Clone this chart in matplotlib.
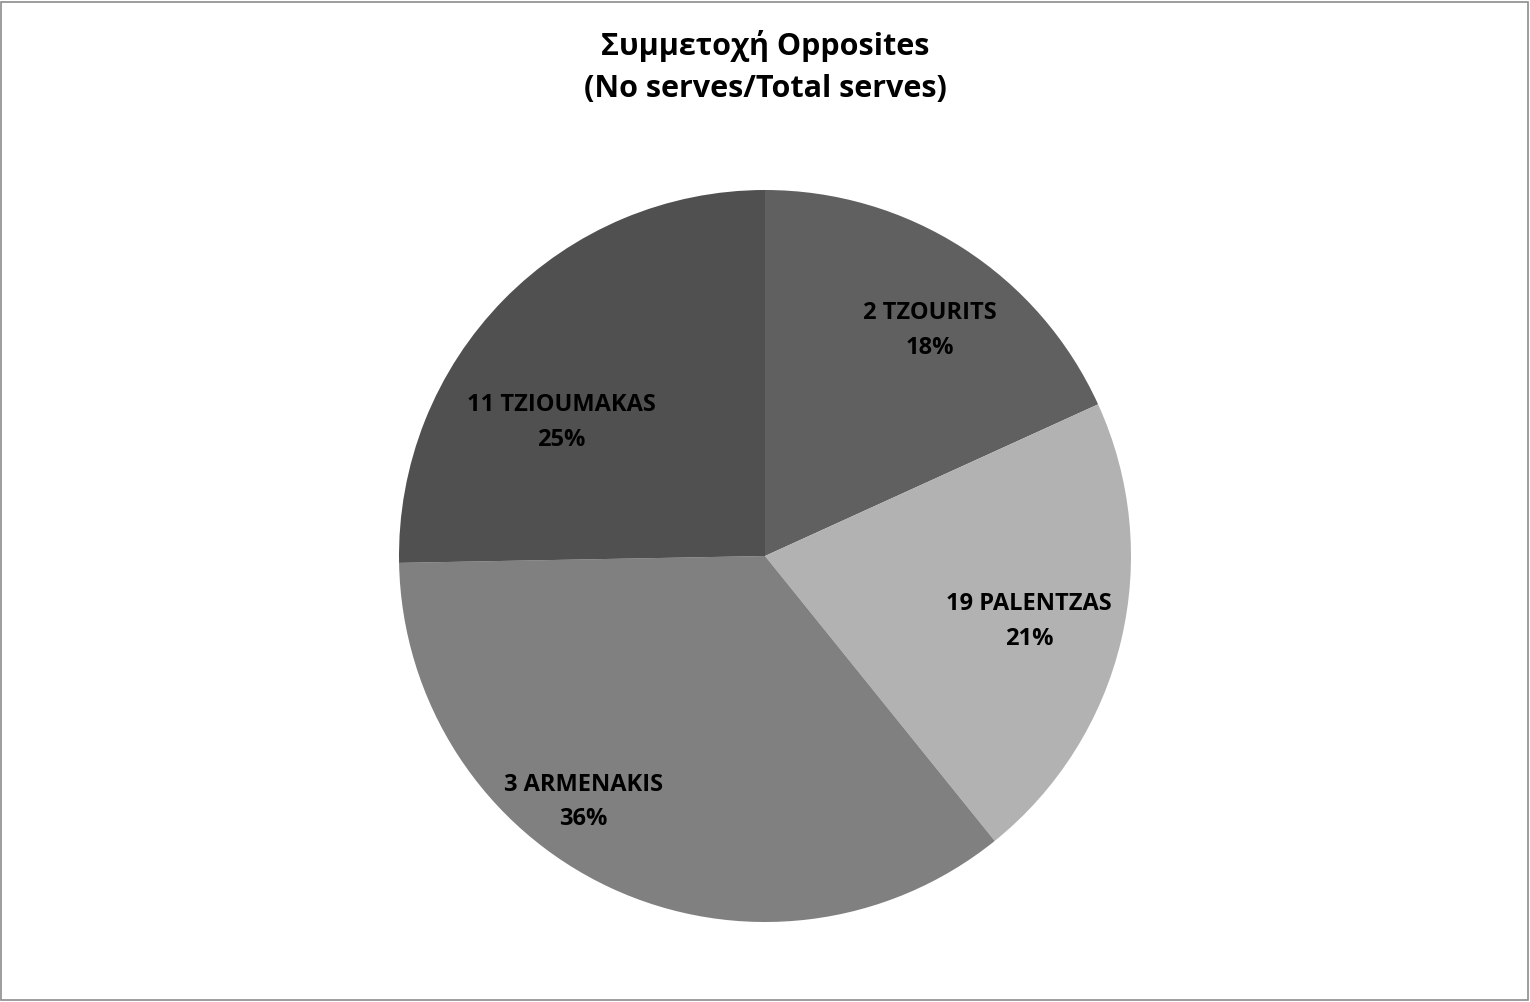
import matplotlib
matplotlib.use("Agg")
import matplotlib.pyplot as plt
import numpy as np

# dati (percentuale sul totale delle battute)
giocatori = ["2 TZOURITS", "19 PALENTZAS", "3 ARMENAKIS", "11 TZIOUMAKAS"]
quote = [18.2, 21.0, 35.5, 25.3]
percentuali = ["18%", "21%", "36%", "25%"]
colori = ["#606060", "#b2b2b2", "#808080", "#505050"]
# posizione delle etichette: distanza dal centro e spostamento angolare rispetto alla bisettrice
distanze = [0.764, 0.743, 0.835, 0.666]
spostamenti = [-3.4, -0.7, -11.4, 11.2]

plt.rcParams["font.family"] = ["Open Sans", "DejaVu Sans"]

fig = plt.figure(figsize=(15.3, 10.02), dpi=100)
# cornice grigia attorno al grafico come in Excel
fig.patches.append(plt.Rectangle((0.0006, 0.002), 0.998, 0.996, transform=fig.transFigure,
                                 fill=False, edgecolor="#8c8c8c", linewidth=1.2))

ax = fig.add_axes([399 / 1530, 80 / 1002, 732 / 1530, 732 / 1002])
spicchi, _ = ax.pie(quote, colors=colori, startangle=90, counterclock=False,
                    radius=1.0, wedgeprops={"linewidth": 0})
ax.set_xlim(-1, 1)
ax.set_ylim(-1, 1)
ax.set_aspect("equal")
ax.axis("off")

# etichette dentro gli spicchi: nome + percentuale
for spicchio, nome, perc, d, s in zip(spicchi, giocatori, percentuali, distanze, spostamenti):
    ang = np.deg2rad((spicchio.theta1 + spicchio.theta2) / 2 + s)
    ax.text(d * np.cos(ang), d * np.sin(ang), f"{nome}\n{perc}", ha="center", va="center",
            fontsize=17, fontweight="bold", color="black", linespacing=1.6)

fig.text(0.5, 0.933, "Συμμετοχή Opposites\n(No serves/Total serves)", ha="center", va="center",
         fontsize=22, fontweight="bold", linespacing=1.55)

fig.savefig("out.png", dpi=100)
